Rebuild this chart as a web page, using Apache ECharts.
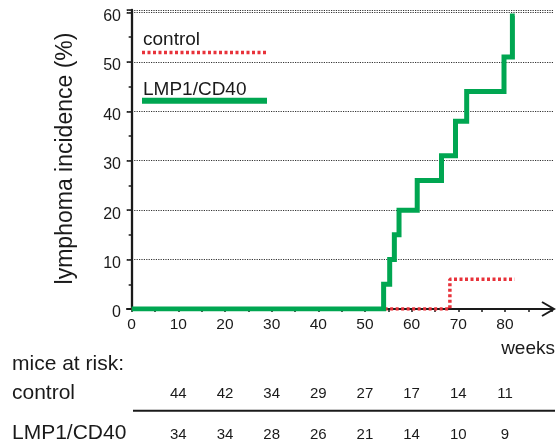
<!DOCTYPE html>
<html>
<head>
<meta charset="utf-8">
<script src="https://cdn.jsdelivr.net/npm/echarts@6/dist/echarts.min.js"></script>
<style>
html,body{margin:0;padding:0;background:#fff;}
#chart{width:558px;height:442px;}
</style>
</head>
<body>
<div id="chart"></div>
<script>
// ---- data ----
const weekTicks = [0, 10, 20, 30, 40, 50, 60, 70, 80];
const minorWeekTicks = [0,5,10,15,20,25,30,35,40,45,50,55,60,65,70,75,80,85,90];
const incidenceTicks = [0, 10, 20, 30, 40, 50, 60];

const controlTimes  = [0, 68.2, 82.1];
const controlLevels = [0, 6, 6];

const lmpTimes  = [0, 54, 55.3, 56.3, 57.3, 61.2, 66.4, 69.4, 71.8, 79.8, 81.6, 82.1];
const lmpLevels = [0, 5, 10, 15, 20, 26, 31, 38, 44, 51, 59.3, 59.3];

const riskWeeks   = [10, 20, 30, 40, 50, 60, 70, 80];
const riskControl = [44, 42, 34, 29, 27, 17, 14, 11];
const riskLMP     = [34, 34, 28, 26, 21, 14, 10, 9];

const seriesNames = ['control', 'LMP1/CD40'];

// ---- build ----
const FONT = "'Liberation Sans', Arial, Helvetica, sans-serif";
const RED = '#e8323a';
const GREEN = '#00a651';
const INK = '#1a1a1a';

const zip = (a, b) => a.map((v, i) => [v, b[i]]);

const chart = echarts.init(document.getElementById('chart'));

const option = {
  animation: false,
  backgroundColor: '#fff',
  grid: { left: 127, right: 5, top: 10, bottom: 133, containLabel: false },
  xAxis: {
    type: 'value',
    min: -1,
    max: 90.3,
    axisLine: { show: true, onZero: false, lineStyle: { color: INK, width: 2 } },
    axisTick: { show: true, customValues: minorWeekTicks, length: 3, lineStyle: { color: INK, width: 1.5 } },
    axisLabel: { show: true, customValues: weekTicks, margin: 8, color: INK, fontSize: 15.5, fontFamily: FONT },
    splitLine: { show: false }
  },
  yAxis: {
    type: 'value',
    min: 0,
    max: 60.5,
    interval: 10,
    axisLine: { show: true, lineStyle: { color: INK, width: 2.3 } },
    axisTick: { show: true, length: 5, lineStyle: { color: INK, width: 1.5 } },
    minorTick: { show: true, splitNumber: 2, length: 3, lineStyle: { color: INK, width: 1.5 } },
    axisLabel: { margin: 6, customValues: incidenceTicks,
      formatter: '{a|{value}}',
      rich: { a: { color: INK, fontSize: 16, fontFamily: FONT, padding: [8, 0, 0, 0] } } },
    splitLine: { show: true, lineStyle: { color: '#333', width: 1.2, type: [1.2, 1.2] } }
  },
  series: [
    {
      name: seriesNames[0],
      type: 'line',
      step: 'end',
      data: zip(controlTimes, controlLevels),
      showSymbol: false,
      symbol: 'none',
      z: 3,
      lineStyle: { color: RED, width: 3.5, type: [3, 2.5], cap: 'butt' }
    },
    {
      name: seriesNames[1],
      type: 'line',
      step: 'end',
      data: zip(lmpTimes, lmpLevels),
      showSymbol: false,
      symbol: 'none',
      z: 4,
      lineStyle: { color: GREEN, width: 5, join: 'miter', cap: 'butt' }
    }
  ]
};

chart.setOption(option);

// ---- overlay text and decorations ----
const g = [];
const end = chart.convertToPixel({ gridIndex: 0 }, [90.3, 0]);
g.push({
  type: 'polyline',
  shape: { points: [[end[0] - 11, end[1] - 7], [end[0] + 1, end[1]], [end[0] - 11, end[1] + 7]] },
  style: { stroke: INK, lineWidth: 2, fill: null },
  z: 10
});

// legend
g.push({ type: 'text', style: { text: seriesNames[0], x: 143, y: 40, font: '19px ' + FONT, fill: INK, textVerticalAlign: 'middle' } });
g.push({ type: 'line', shape: { x1: 142, y1: 52.5, x2: 267, y2: 52.5 }, style: { stroke: RED, lineWidth: 3.5, lineDash: [3, 2.5] } });
g.push({ type: 'text', style: { text: seriesNames[1], x: 143, y: 90, font: '19px ' + FONT, fill: INK, textVerticalAlign: 'middle' } });
g.push({ type: 'line', shape: { x1: 142, y1: 100.7, x2: 267, y2: 100.7 }, style: { stroke: GREEN, lineWidth: 6 } });

// y-axis title
g.push({ type: 'text', x: 65.5, y: 158.5, rotation: Math.PI / 2,
  style: { text: 'lymphoma incidence (%)', x: 0, y: 0, font: '23px ' + FONT, fill: INK, textAlign: 'center', textVerticalAlign: 'middle' } });

// x-axis name
g.push({ type: 'text', style: { text: 'weeks', x: 555, y: 348.5, font: '19px ' + FONT, fill: INK, textAlign: 'right', textVerticalAlign: 'middle' } });

// at-risk table
g.push({ type: 'text', style: { text: 'mice at risk:', x: 12, y: 364, font: '21px ' + FONT, fill: INK, textVerticalAlign: 'middle' } });
g.push({ type: 'text', style: { text: seriesNames[0], x: 12, y: 393, font: '21px ' + FONT, fill: INK, textVerticalAlign: 'middle' } });
g.push({ type: 'text', style: { text: seriesNames[1], x: 12, y: 433, font: '21px ' + FONT, fill: INK, textVerticalAlign: 'middle' } });
g.push({ type: 'line', shape: { x1: 133, y1: 410.7, x2: 555, y2: 410.7 }, style: { stroke: INK, lineWidth: 2 } });

riskWeeks.forEach((w, i) => {
  const px = chart.convertToPixel({ gridIndex: 0 }, [w, 0])[0];
  g.push({ type: 'text', style: { text: String(riskControl[i]), x: px, y: 394, font: '15px ' + FONT, fill: INK, textAlign: 'center', textVerticalAlign: 'middle' } });
  g.push({ type: 'text', style: { text: String(riskLMP[i]), x: px, y: 434.5, font: '15px ' + FONT, fill: INK, textAlign: 'center', textVerticalAlign: 'middle' } });
});

chart.setOption({ graphic: g });
</script>
</body>
</html>
